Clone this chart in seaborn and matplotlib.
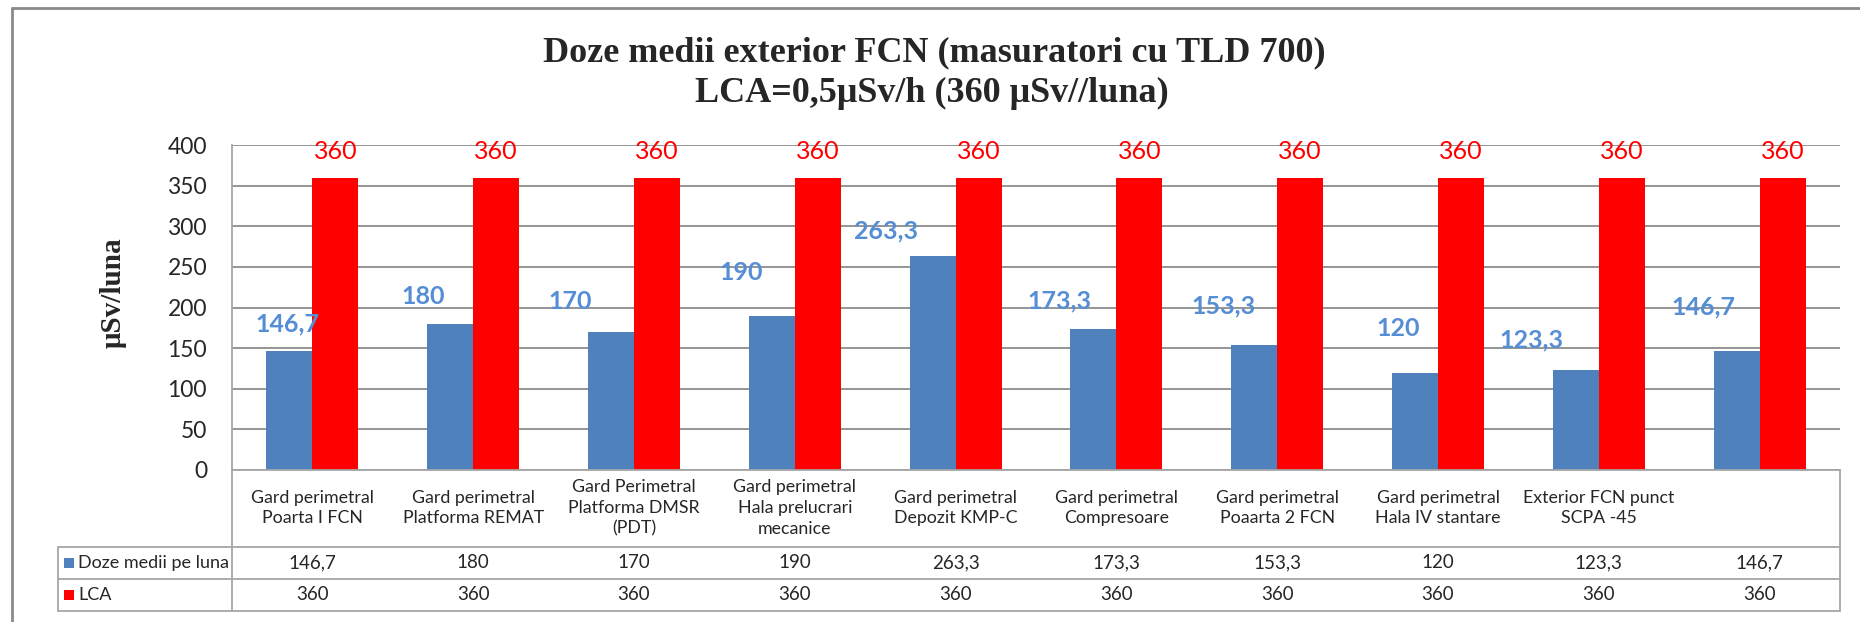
import pandas as pd
import matplotlib.pyplot as plt
import seaborn as sns
from matplotlib.lines import Line2D
from matplotlib.patches import Rectangle
from matplotlib.transforms import blended_transform_factory

# data
locatii = ["Gard perimetral\nPoarta I FCN", "Gard perimetral\nPlatforma REMAT",
           "Gard Perimetral\nPlatforma DMSR\n(PDT)", "Gard perimetral\nHala prelucrari\nmecanice",
           "Gard perimetral\nDepozit KMP-C", "Gard perimetral\nCompresoare",
           "Gard perimetral\nPoaarta 2 FCN", "Gard perimetral\nHala IV stantare",
           "Exterior FCN punct\nSCPA -45", ""]
doze = [146.7, 180, 170, 190, 263.3, 173.3, 153.3, 120, 123.3, 146.7]
lca = [360, 360, 360, 360, 360, 360, 360, 360, 360, 360]
serii = ["Doze medii pe luna", "LCA"]
y_ticks = [0, 50, 100, 150, 200, 250, 300, 350, 400]

# manual label offsets (pixels) as placed in the original Excel chart
lbl_dx = [-2, -27, -41, -31, -47, -34, -31, -17, -44, -33]
lbl_dy = [27, 27, 30, 43, 25, 28, 40, 44, 30, 44]

blue = "#4F81BD"
red = "#FF0000"
lbl_blue = "#558ED5"
grid_c = "#8C8C8C"
tbl_c = "#A6A6A6"

sns.set_style("white")
plt.rcParams['font.family'] = ['Lato', 'DejaVu Sans']

W, H = 1860, 622
def fx(x): return x / W
def fy(y): return 1 - y / H

df = pd.DataFrame({
    "loc": locatii * 2,
    "val": doze + lca,
    "serie": [serii[0]] * len(doze) + [serii[1]] * len(lca),
})

fig = plt.figure(figsize=(18.6, 6.22), dpi=100)
ax = fig.add_axes([fx(232), fy(470), (1840 - 232) / W, (470 - 145) / H])
sns.barplot(data=df, x="loc", y="val", hue="serie", palette=[blue, red],
            width=0.572, order=locatii, hue_order=serii, legend=False, ax=ax,
            saturation=1, edgecolor="none")

ax.set_ylim(0, 400)
ax.set_yticks(y_ticks)
ax.set_yticklabels([str(t) for t in y_ticks], fontsize=16.5, color="#262626")
ax.tick_params(axis='y', length=0, pad=18)
ax.set_xticks([])
ax.set_xlabel("")
ax.set_ylabel("")
ax.yaxis.grid(True, color=grid_c, linewidth=1.3)
ax.set_axisbelow(True)
for s in ["top", "right"]:
    ax.spines[s].set_visible(False)
ax.spines["left"].set_color(tbl_c)
ax.spines["bottom"].set_color(tbl_c)
ax.spines["left"].set_linewidth(1.3)
ax.spines["bottom"].set_linewidth(1.3)

def fmt(v):
    return (f"{v:.1f}".rstrip("0").rstrip(".")).replace(".", ",")

# data labels
for i, bar in enumerate(ax.containers[0]):
    cx = bar.get_x() + bar.get_width() / 2
    ax.annotate(fmt(doze[i]), xy=(cx, bar.get_height()),
                xytext=(lbl_dx[i] * 0.72, lbl_dy[i] * 0.72), textcoords="offset points",
                ha="center", va="center", fontsize=18, fontweight="bold", color=lbl_blue)
for i, bar in enumerate(ax.containers[1]):
    cx = bar.get_x() + bar.get_width() / 2
    ax.annotate(fmt(lca[i]), xy=(cx, bar.get_height()),
                xytext=(0, 26 * 0.72), textcoords="offset points",
                ha="center", va="center", fontsize=18, color=red)

# title and axis label
fig.text(fx(934), fy(53), "Doze medii exterior FCN (masuratori cu TLD 700)",
         ha="center", va="center", fontsize=26, fontweight="bold", family="Liberation Serif")
fig.text(fx(932), fy(93), "LCA=0,5μSv/h (360 μSv//luna)",
         ha="center", va="center", fontsize=26, fontweight="bold", family="Liberation Serif")
fig.text(fx(113), fy(293), "μSv/luna", rotation=90, ha="center", va="center",
         fontsize=21, fontweight="bold", family="Liberation Serif")

# chart frame
fig.add_artist(Line2D([fx(12), fx(12)], [fy(8), 0], transform=fig.transFigure, color="#8A8A8A", lw=2))
fig.add_artist(Line2D([fx(12), 1], [fy(8), fy(8)], transform=fig.transFigure, color="#8A8A8A", lw=2))

# data table
def hline(x0, x1, y):
    fig.add_artist(Line2D([fx(x0), fx(x1)], [fy(y), fy(y)], transform=fig.transFigure, color=tbl_c, lw=1.3))
def vline(x, y0, y1):
    fig.add_artist(Line2D([fx(x), fx(x)], [fy(y0), fy(y1)], transform=fig.transFigure, color=tbl_c, lw=1.3))

hline(58, 1840, 547)
hline(58, 1840, 579)
hline(58, 1840, 611)
vline(232, 470, 611)
vline(1840, 470, 611)
vline(58, 547, 611)

tr = blended_transform_factory(ax.transData, fig.transFigure)
for i, loc in enumerate(locatii):
    fig.text(i, fy(508), loc, transform=tr, ha="center", va="center",
             fontsize=12.8, color="#262626", linespacing=1.35)
    fig.text(i, fy(563), fmt(doze[i]), transform=tr, ha="center", va="center",
             fontsize=13.5, color="#262626")
    fig.text(i, fy(595), fmt(lca[i]), transform=tr, ha="center", va="center",
             fontsize=13.5, color="#262626")

for row_y, name, col in [(563, serii[0], blue), (595, serii[1], red)]:
    fig.add_artist(Rectangle((fx(64), fy(row_y + 5)), 10 / W, 10 / H,
                             transform=fig.transFigure, color=col, lw=0))
    fig.text(fx(78), fy(row_y), name, ha="left", va="center", fontsize=13, color="#262626")

fig.savefig("out.png", dpi=100)
